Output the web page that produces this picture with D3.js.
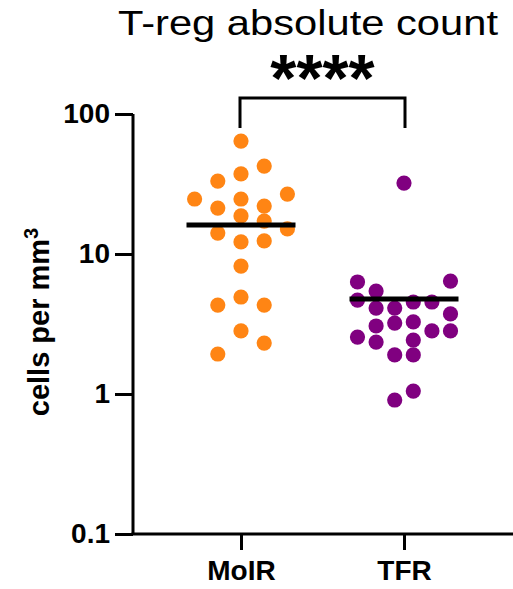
<!DOCTYPE html>
<html>
<head>
<meta charset="utf-8">
<script src="https://cdn.jsdelivr.net/npm/d3@7"></script>
<style>
  body { margin: 0; background: #fff; }
  text { font-family: "Liberation Sans", Arial, sans-serif; }
</style>
</head>
<body>
<svg id="chart"></svg>
<script>
// size of the picture
var width = 513,
    height = 589;

// groups and their values (cells per mm3)
var groups = ["MoIR", "TFR"];
var moirValues = [64.1, 42.5, 37.3, 33.2, 26.8, 24.7, 24.7, 22.0, 21.3, 18.7, 17.2,
    15.1, 14.1, 12.4, 12.2, 8.2, 4.93, 4.32, 4.32, 2.82, 2.31, 1.93];
var tfrValues = [32.1, 6.41, 6.31, 5.44, 4.69, 4.54, 4.54, 4.11, 4.11, 3.73, 3.27,
    3.21, 3.06, 2.82, 2.82, 2.55, 2.43, 2.35, 1.90, 1.90, 1.05, 0.906];
// column slot of each dot in the scatter (0 = centre)
var moirSlots = [0, 1, 0, -1, 2, -2, 0, 1, -1, 0, 1, 2, -1, 1, 0, 0, 0, -1, 1, 0, 1, -1];
var tfrSlots = [0, 2.5, -2.5, -1.5, -2.5, 0.5, 1.5, -1.5, -0.5, 2.5, 0.5,
    -0.5, -1.5, 1.5, 2.5, -2.5, 0.5, -1.5, -0.5, 0.5, 0.5, -0.5];
// horizontal bar value for each group
var centerValues = [16.1, 4.77];
// y axis ticks
var yTicks = [0.1, 1, 10, 100];
var yTickLabels = ["0.1", "1", "10", "100"];

var colors = ["#ff8514", "#800080"];
var slotStep = [23.2, 18.6];

var svg = d3.select("#chart")
    .attr("width", width)
    .attr("height", height);

//scales
var x = d3.scalePoint()
    .domain(groups)
    .range([241, 404]);

var y = d3.scaleLog()
    .domain([0.1, 100])
    .range([534, 114]);

var axisLeft = 133;

// title
svg.append("text")
    .attr("x", 308)
    .attr("y", 35)
    .attr("text-anchor", "middle")
    .style("font-size", "35px")
    .attr("textLength", 380)
    .attr("lengthAdjust", "spacingAndGlyphs")
    .text("T-reg absolute count");

// y axis
var yAxis = svg.append("g")
    .attr("transform", "translate(" + axisLeft + ",0)")
    .call(d3.axisLeft(y)
        .tickValues(yTicks)
        .tickFormat(function (d, i) { return yTickLabels[i]; })
        .tickSize(18)
        .tickPadding(5));
yAxis.select(".domain")
    .attr("d", "M0," + y(100) + "V" + y(0.1))
    .attr("stroke", "#000")
    .attr("stroke-width", 3);
yAxis.selectAll(".tick line").attr("stroke", "#000").attr("stroke-width", 3);
yAxis.selectAll(".tick text")
    .style("font-size", "28px")
    .style("font-weight", "bold")
    .attr("fill", "#000");

// x axis
var xAxis = svg.append("g")
    .attr("transform", "translate(0," + y(0.1) + ")")
    .call(d3.axisBottom(x).tickSize(16).tickPadding(10));
xAxis.select(".domain")
    .attr("d", "M" + (axisLeft - 1.5) + ",0H" + width)
    .attr("stroke", "#000")
    .attr("stroke-width", 3);
xAxis.selectAll(".tick line").attr("stroke", "#000").attr("stroke-width", 3);
xAxis.selectAll(".tick text")
    .style("font-size", "28px")
    .style("font-weight", "bold")
    .attr("fill", "#000");

// y axis label
var ylab = svg.append("text")
    .attr("transform", "translate(49,322) rotate(-90)")
    .attr("text-anchor", "middle")
    .style("font-size", "29px")
    .style("font-weight", "bold");
ylab.append("tspan").text("cells per mm");
ylab.append("tspan")
    .attr("dy", "-0.55em")
    .style("font-size", "20px")
    .text("3");

// dots
var sets = [moirValues, tfrValues];
var slots = [moirSlots, tfrSlots];
groups.forEach(function (grp, gi) {
    svg.append("g")
        .selectAll("circle")
        .data(sets[gi])
        .enter()
        .append("circle")
        .attr("cx", function (d, i) { return x(grp) + slots[gi][i] * slotStep[gi]; })
        .attr("cy", function (d) { return y(d); })
        .attr("r", 7.6)
        .attr("fill", colors[gi]);
});

// group bars
svg.append("g")
    .selectAll("line")
    .data(centerValues)
    .enter()
    .append("line")
    .attr("x1", function (d, i) { return x(groups[i]) - 54.5; })
    .attr("x2", function (d, i) { return x(groups[i]) + 54.5; })
    .attr("y1", function (d) { return y(d); })
    .attr("y2", function (d) { return y(d); })
    .attr("stroke", "#000")
    .attr("stroke-width", 5);

// significance bracket
var bx1 = x(groups[0]) - 1, bx2 = x(groups[1]) + 1;
svg.append("path")
    .attr("d", "M" + bx1 + ",128V98H" + bx2 + "V128")
    .attr("fill", "none")
    .attr("stroke", "#000")
    .attr("stroke-width", 3);

svg.append("text")
    .attr("x", (bx1 + bx2) / 2)
    .attr("y", 101)
    .attr("text-anchor", "middle")
    .style("font-size", "67px")
    .style("font-weight", "bold")
    .text("****");
</script>
</body>
</html>
